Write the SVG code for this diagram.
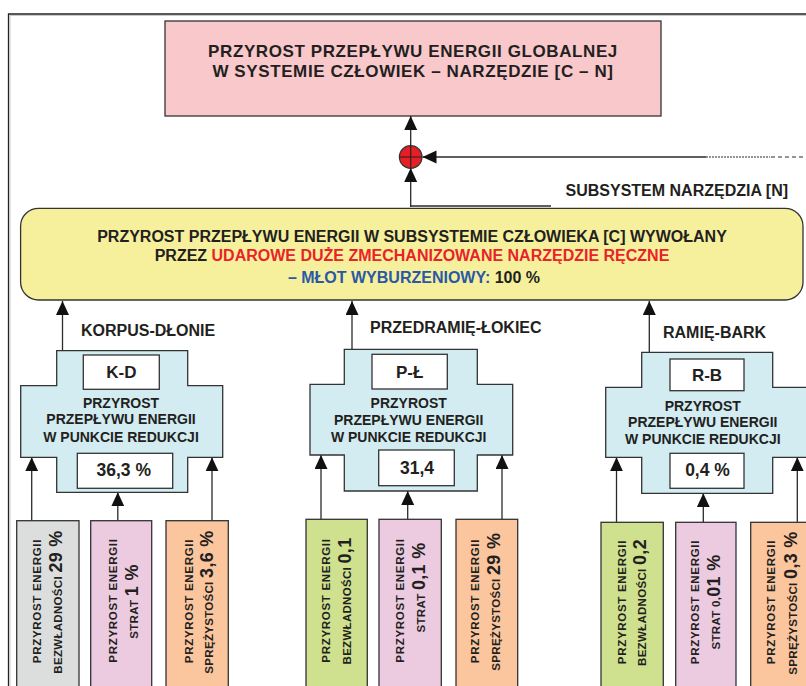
<svg xmlns="http://www.w3.org/2000/svg" width="806" height="686" viewBox="0 0 806 686">
<style>
text{font-family:"Liberation Sans",Arial,sans-serif;font-weight:bold;fill:#231f20}
.box{stroke:#333;stroke-width:1.3}
.cross{fill:#d2ecf1;stroke:#333;stroke-width:1.3}
.white{fill:#fff;stroke:#333;stroke-width:1.3}
.con{stroke:#2a2a2a;stroke-width:1.3;fill:none}
.c{text-anchor:middle}
.t14{font-size:14px}
.v{font-size:11.5px;text-anchor:middle}
.big{font-size:18px}
.red{fill:#e8232a}
.blue{fill:#2b58a6}
</style>
<defs>
<marker id="ah" markerUnits="userSpaceOnUse" markerWidth="15" markerHeight="14" refX="14" refY="6.5" orient="auto">
<path d="M0,0 L14,6.5 L0,13 z" fill="#111"/>
</marker>
</defs>
<rect width="806" height="686" fill="#fff"/>
<!-- frame -->
<g id="frame">
<path d="M8.5,686 V14 H806" fill="none" stroke="#222" stroke-width="1.3"/>
<path d="M10,686 V15.5 H806" fill="none" stroke="#bbb" stroke-width="0.8"/>
</g>
<g id="global">
<rect x="165" y="21" width="496" height="95" fill="#f8c8cb" class="box"/>
<text x="413" y="57" class="c" font-size="17" letter-spacing="0.6">PRZYROST PRZEPŁYWU ENERGII GLOBALNEJ</text>
<text x="413" y="76.5" class="c" font-size="17" letter-spacing="0.6">W SYSTEMIE CZŁOWIEK – NARZĘDZIE [C – N]</text>
</g>
<g id="junction">
<circle cx="410.7" cy="157" r="11.3" fill="#e61e25" stroke="#333" stroke-width="1.2"/>
<path d="M410.7,145.7 V168.3 M399.4,157 H422" stroke="#222" stroke-width="1.1"/>
</g>
<g id="subsystem-label">
<text x="565.5" y="196" font-size="16">SUBSYSTEM NARZĘDZIA [N]</text>
</g>
<g id="human">
<rect x="20.6" y="208.3" width="782.4" height="91.7" rx="18" fill="#f6f09c" class="box"/>
<text x="412" y="242" class="c" font-size="16">PRZYROST PRZEPŁYWU ENERGII W SUBSYSTEMIE CZŁOWIEKA [C] WYWOŁANY</text>
<text x="412" y="260.5" class="c" font-size="16">PRZEZ <tspan class="red">UDAROWE DUŻE ZMECHANIZOWANE NARZĘDZIE RĘCZNE</tspan></text>
<text x="414" y="282.5" class="c" font-size="16"><tspan class="blue">– MŁOT WYBURZENIOWY:</tspan> 100 %</text>
</g>
<g id="connectors">
<line x1="410.7" y1="207" x2="410.7" y2="168" class="con" marker-end="url(#ah)"/>
<line x1="410.7" y1="146" x2="410.7" y2="116" class="con" marker-end="url(#ah)"/>
<line x1="706" y1="157" x2="422.5" y2="157" class="con" marker-end="url(#ah)"/>
<line x1="706" y1="157" x2="770" y2="157" stroke="#2a2a2a" stroke-width="1.2" stroke-dasharray="2 1"/>
<line x1="771" y1="157" x2="806" y2="157" stroke="#2a2a2a" stroke-width="1.2" stroke-dasharray="4 3"/>
<line x1="410.7" y1="206" x2="551" y2="206" class="con"/>
<line x1="62.5" y1="350.7" x2="62.5" y2="301" class="con" marker-end="url(#ah)"/>
<line x1="352" y1="349.3" x2="352" y2="301" class="con" marker-end="url(#ah)"/>
<line x1="649.3" y1="352.3" x2="649.3" y2="301" class="con" marker-end="url(#ah)"/>
<line x1="31.7" y1="520.7" x2="31.7" y2="457.3" class="con" marker-end="url(#ah)"/>
<line x1="117.8" y1="520.7" x2="117.8" y2="492.3" class="con" marker-end="url(#ah)"/>
<line x1="212" y1="520.7" x2="212" y2="457.3" class="con" marker-end="url(#ah)"/>
<line x1="321" y1="519.3" x2="321" y2="455" class="con" marker-end="url(#ah)"/>
<line x1="407.7" y1="519.3" x2="407.7" y2="491" class="con" marker-end="url(#ah)"/>
<line x1="502" y1="519.3" x2="502" y2="455" class="con" marker-end="url(#ah)"/>
<line x1="616.5" y1="522.3" x2="616.5" y2="457.3" class="con" marker-end="url(#ah)"/>
<line x1="703.3" y1="522.3" x2="703.3" y2="493.3" class="con" marker-end="url(#ah)"/>
<line x1="797.3" y1="522.3" x2="797.3" y2="457.3" class="con" marker-end="url(#ah)"/>
</g>
<g id="labels">
<text x="81" y="336" font-size="16">KORPUS-DŁONIE</text>
<text x="370" y="332.5" font-size="16">PRZEDRAMIĘ-ŁOKIEC</text>
<text x="663" y="338" font-size="16">RAMIĘ-BARK</text>
</g>
<!-- K-D -->
<g id="kd">
<polygon class="cross" points="56.7,350.7 187.7,350.7 187.7,385.7 222.7,385.7 222.7,457.3 187.7,457.3 187.7,492.3 56.7,492.3 56.7,457.3 20.7,457.3 20.7,385.7 56.7,385.7"/>
<rect class="white" x="83.3" y="355" width="76" height="34.3"/>
<text x="121.3" y="378.3" class="c" font-size="17">K-D</text>
<text x="121" y="407.7" class="c t14">PRZYROST</text>
<text x="121" y="424" class="c t14">PRZEPŁYWU ENERGII</text>
<text x="121" y="441.7" class="c t14">W PUNKCIE REDUKCJI</text>
<rect class="white" x="77.3" y="453.3" width="95.4" height="35"/>
<text x="123.7" y="476" class="c" font-size="17.5">36,3 %</text>
</g>
<!-- P-L -->
<g id="pl">
<polygon class="cross" points="344.3,349.3 477.3,349.3 477.3,384.3 512.7,384.3 512.7,455 477.3,455 477.3,491 344.3,491 344.3,455 310,455 310,384.3 344.3,384.3"/>
<rect class="white" x="372" y="354.3" width="75.3" height="34.7"/>
<text x="409.7" y="378" class="c" font-size="17">P-Ł</text>
<text x="408.7" y="407.7" class="c t14">PRZYROST</text>
<text x="408.7" y="424.5" class="c t14">PRZEPŁYWU ENERGII</text>
<text x="408.7" y="441.7" class="c t14">W PUNKCIE REDUKCJI</text>
<rect class="white" x="378.7" y="450" width="75.6" height="35.7"/>
<text x="417" y="474" class="c" font-size="17.5">31,4</text>
</g>
<!-- R-B -->
<g id="rb">
<polygon class="cross" points="641.7,352.3 772.7,352.3 772.7,387.3 808,387.3 808,457.3 772.7,457.3 772.7,493.3 641.7,493.3 641.7,457.3 605.7,457.3 605.7,387.3 641.7,387.3"/>
<rect class="white" x="670" y="359" width="74" height="31.7"/>
<text x="707" y="381" class="c" font-size="17">R-B</text>
<text x="702.8" y="410.7" class="c t14">PRZYROST</text>
<text x="702.8" y="426.7" class="c t14">PRZEPŁYWU ENERGII</text>
<text x="702.8" y="444" class="c t14">W PUNKCIE REDUKCJI</text>
<rect class="white" x="670" y="453.3" width="74" height="35"/>
<text x="707.5" y="475.5" class="c" font-size="17.5">0,4 %</text>
</g>
<!-- bottom boxes -->
<g id="kd-inertia">
<rect class="box" fill="#dcdddd" x="16.7" y="520.7" width="62.3" height="180"/>
<text transform="translate(40.7,601) rotate(-90)" class="v" letter-spacing="0.7">PRZYROST ENERGII</text>
<text transform="translate(61.7,602) rotate(-90)" class="v" letter-spacing="0.3">BEZWŁADNOŚCI <tspan class="big">29 %</tspan></text>
</g>
<g id="kd-loss">
<rect class="box" fill="#eccbe0" x="90.7" y="520.7" width="61" height="180"/>
<text transform="translate(116.7,600.5) rotate(-90)" class="v" letter-spacing="0.7">PRZYROST ENERGII</text>
<text transform="translate(137.5,601.5) rotate(-90)" class="v" letter-spacing="0.3">STRAT <tspan class="big">1 %</tspan></text>
</g>
<g id="kd-elastic">
<rect class="box" fill="#fbc59e" x="166" y="520.7" width="62.3" height="180"/>
<text transform="translate(192.7,601) rotate(-90)" class="v" letter-spacing="0.7">PRZYROST ENERGII</text>
<text transform="translate(213.3,602) rotate(-90)" class="v" letter-spacing="0.3">SPRĘŻYSTOŚCI <tspan class="big">3,6 %</tspan></text>
</g>
<g id="pl-inertia">
<rect class="box" fill="#cfe08f" x="306" y="519.3" width="61.3" height="180"/>
<text transform="translate(330,600.5) rotate(-90)" class="v" letter-spacing="0.7">PRZYROST ENERGII</text>
<text transform="translate(350.7,601) rotate(-90)" class="v" letter-spacing="0.3">BEZWŁADNOŚCI <tspan class="big">0,1</tspan></text>
</g>
<g id="pl-loss">
<rect class="box" fill="#eccbe0" x="379" y="519.3" width="62.3" height="180"/>
<text transform="translate(404,600.5) rotate(-90)" class="v" letter-spacing="0.7">PRZYROST ENERGII</text>
<text transform="translate(425,587.5) rotate(-90)" class="v" letter-spacing="0.3">STRAT <tspan class="big">0,1 %</tspan></text>
</g>
<g id="pl-elastic">
<rect class="box" fill="#fbc59e" x="456" y="519.3" width="61.7" height="180"/>
<text transform="translate(479.3,601) rotate(-90)" class="v" letter-spacing="0.7">PRZYROST ENERGII</text>
<text transform="translate(500,601.7) rotate(-90)" class="v" letter-spacing="0.3">SPRĘŻYSTOŚCI <tspan class="big">29 %</tspan></text>
</g>
<g id="rb-inertia">
<rect class="box" fill="#cfe08f" x="601" y="522.3" width="62.3" height="180"/>
<text transform="translate(625.7,602) rotate(-90)" class="v" letter-spacing="0.7">PRZYROST ENERGII</text>
<text transform="translate(646,602.5) rotate(-90)" class="v" letter-spacing="0.3">BEZWŁADNOŚCI <tspan class="big">0,2</tspan></text>
</g>
<g id="rb-loss">
<rect class="box" fill="#eccbe0" x="675.7" y="522.3" width="60.3" height="180"/>
<text transform="translate(699.3,602) rotate(-90)" class="v" letter-spacing="0.7">PRZYROST ENERGII</text>
<text transform="translate(720,602) rotate(-90)" class="v" letter-spacing="0.3">STRAT 0,<tspan class="big">01 %</tspan></text>
</g>
<g id="rb-elastic">
<rect class="box" fill="#fbc59e" x="750.7" y="522.3" width="62" height="180"/>
<text transform="translate(775,602) rotate(-90)" class="v" letter-spacing="0.7">PRZYROST ENERGII</text>
<text transform="translate(797.3,603) rotate(-90)" class="v" letter-spacing="0.3">SPRĘŻYSTOŚCI <tspan class="big">0,3 %</tspan></text>
</g>
</svg>
